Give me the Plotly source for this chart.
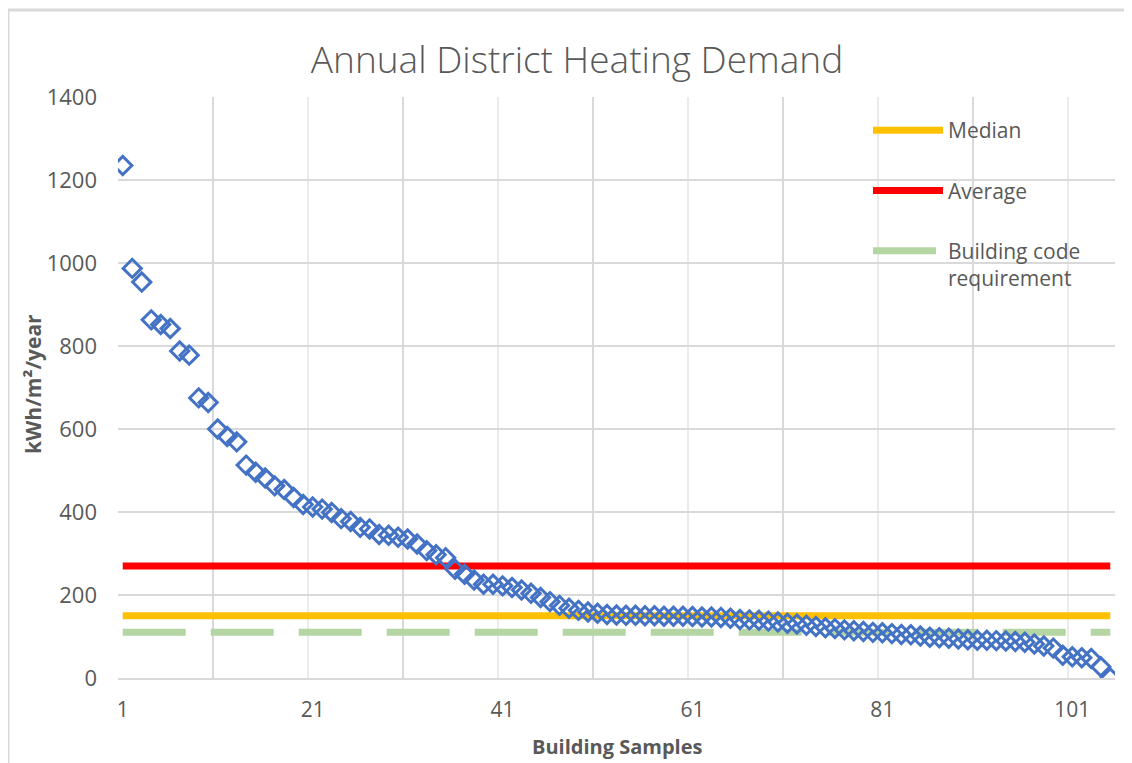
import plotly.graph_objects as go

# ---- data ----
samples = list(range(1, 106))
demand = [1235, 987, 954, 863, 852, 842, 788, 778, 675, 664,
          600, 582, 569, 513, 496, 482, 463, 454, 435, 418,
          412, 407, 399, 384, 377, 363, 359, 346, 344, 339,
          335, 323, 307, 297, 290, 262, 250, 236, 226, 226,
          222, 218, 212, 204, 194, 184, 175, 168, 163, 159,
          156, 153, 152, 151, 151, 150, 150, 149, 149, 149,
          148, 147, 147, 146, 144, 141, 140, 139, 137, 135,
          132, 130, 127, 124, 121, 119, 116, 114, 112, 110,
          109, 107, 105, 104, 101, 98, 97, 96, 94, 92,
          91, 91, 90, 89, 88, 86, 82, 77, 72, 55,
          51, 49, 47, 27, 0]
median_value = 150
average_value = 270
code_requirement = 110
x_tick_labels = [1, 21, 41, 61, 81, 101]
y_tick_values = [0, 200, 400, 600, 800, 1000, 1200, 1400]

FONT = "Open Sans"
TXT = "#595959"
OFF = 8  # page body margin
W, H = 1132 - OFF, 763 - OFF
PW, PH = 997, 581  # plot area size in px

fig = go.Figure()

fig.add_trace(go.Scatter(
    x=samples, y=[median_value] * len(samples), mode="lines", name="Median",
    line=dict(color="#FFC000", width=7), legendgroup="a", legendrank=1))
fig.add_trace(go.Scatter(
    x=samples, y=[average_value] * len(samples), mode="lines", name="Average",
    line=dict(color="#FF0000", width=7), legendgroup="b", legendrank=2))
fig.add_trace(go.Scatter(
    x=samples, y=[code_requirement] * len(samples), mode="lines",
    name="Building code<br>requirement",
    line=dict(color="#B5D6A2", width=7, dash="63px,25px"), legendgroup="c", legendrank=3))
fig.add_trace(go.Scatter(
    x=samples, y=demand, mode="markers", name="Demand", showlegend=False,
    marker=dict(symbol="diamond-open", size=14, color="#4472C4",
                line=dict(color="#4472C4", width=3))))

# helper axis for the darker vertical gridlines
fig.add_trace(go.Scatter(x=[None], y=[None], xaxis="x2", showlegend=False, hoverinfo="skip"))

fig.update_layout(
    width=W, height=H,
    margin=dict(l=118 - OFF, r=17, t=97 - OFF, b=85, autoexpand=False),
    paper_bgcolor="white", plot_bgcolor="white",
    font=dict(family=FONT, color=TXT),
    title=dict(text="Annual District Heating Demand", x=(577 - 118) / PW, xref="paper",
               xanchor="center", y=1 - (60 - OFF) / H, yanchor="middle",
               font=dict(family=FONT, size=37, color=TXT, weight=300)),
    xaxis=dict(range=[0.5, 105.5], tickmode="array", tickvals=x_tick_labels,
               ticktext=[str(v) for v in x_tick_labels], showgrid=False, zeroline=False,
               showline=True, linecolor="#D9D9D9", linewidth=2, ticks="", automargin=False,
               ticklabelstandoff=12,
               tickfont=dict(family=FONT, size=21, color=TXT),
               minor=dict(tick0=0.5, dtick=10, showgrid=True, gridcolor="#EBEBEB", gridwidth=1.5)),
    xaxis2=dict(overlaying="x", range=[0.5, 105.5], tick0=10.5, dtick=20, showgrid=True,
                gridcolor="#D9D9D9", gridwidth=1.5, showticklabels=False, zeroline=False,
                side="bottom", automargin=False),
    yaxis=dict(range=[0, 1400], tickvals=y_tick_values, showgrid=True, gridcolor="#D9D9D9",
               gridwidth=1.5, zeroline=False, showline=False, ticks="", automargin=False,
               ticklabelstandoff=20,
               tickfont=dict(family=FONT, size=22, color=TXT)),
    annotations=[
        dict(text="<b>Building Samples</b>", xref="paper", yref="paper",
             x=(617 - 118) / PW, y=(678 - 746) / PH, xanchor="center", yanchor="middle",
             showarrow=False, font=dict(family=FONT, size=20, color=TXT)),
        dict(text="<b>kWh/m²/year</b>", xref="paper", yref="paper", textangle=-90,
             x=(33 - 118) / PW, y=(678 - 384) / PH, xanchor="center", yanchor="middle",
             showarrow=False, font=dict(family=FONT, size=21, color=TXT)),
    ],
    legend=dict(x=(868 - 118) / PW, xanchor="left", y=(678 - 110) / PH, yanchor="top",
                bgcolor="rgba(0,0,0,0)", itemwidth=70, tracegroupgap=30, valign="top",
                font=dict(family=FONT, size=21, color=TXT), traceorder="grouped"),
    showlegend=True,
    shapes=[dict(type="rect", xref="paper", yref="paper",
                 x0=(8 - 118) / PW, x1=(1127 - 118) / PW,
                 y0=(678 - 800) / PH, y1=(678 - 10) / PH,
                 line=dict(color="#D9D9D9", width=3), layer="below")],
)

fig.write_html("out.html")
